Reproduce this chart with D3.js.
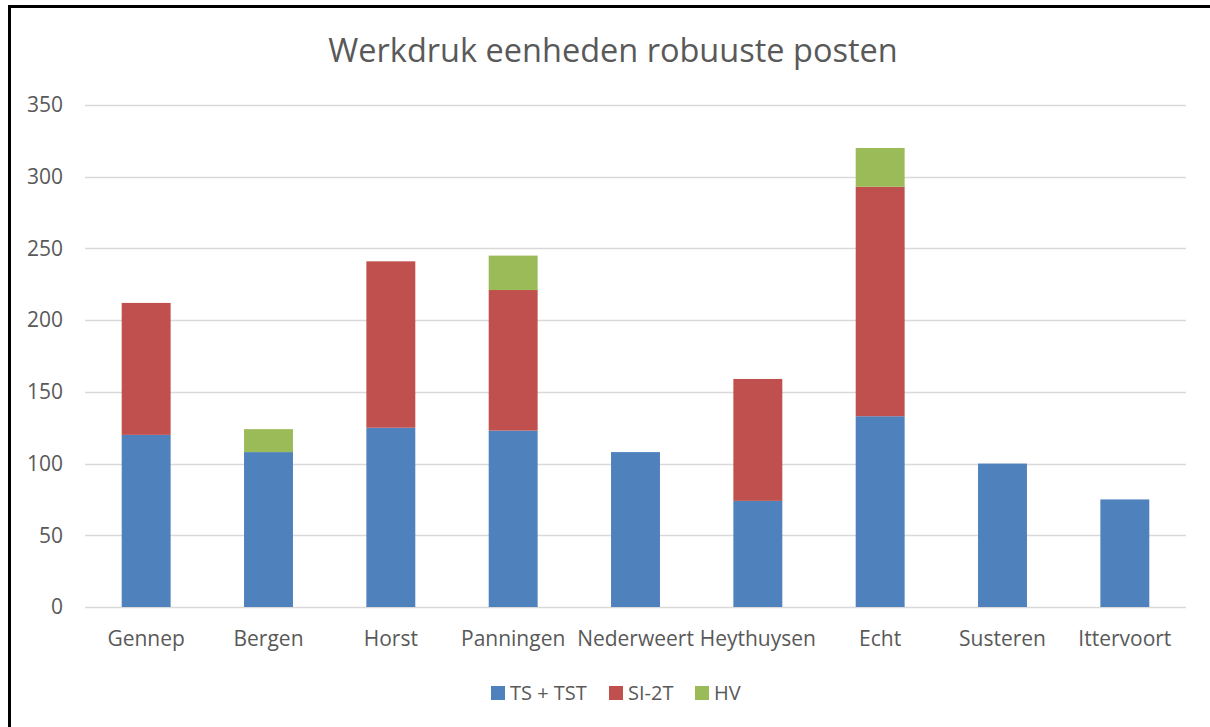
<!DOCTYPE html>
<html>
<head>
<meta charset="utf-8">
<script src="https://cdn.jsdelivr.net/npm/d3@7"></script>
<style>
  html, body { margin: 0; padding: 0; background: #fff; }
  svg { display: block; font-family: "Open Sans", "Noto Sans", sans-serif; }
</style>
</head>
<body>
<div id="chart"></div>
<script>
const categories = ["Gennep", "Bergen", "Horst", "Panningen", "Nederweert", "Heythuysen", "Echt", "Susteren", "Ittervoort"];
const tsTst = [120, 108, 125, 123, 108, 74, 133, 100, 75];
const si2t = [92, 0, 116, 98, 0, 85, 160, 0, 0];
const hv = [0, 16, 0, 24, 0, 0, 27, 0, 0];
const seriesNames = ["TS + TST", "SI-2T", "HV"];
const colors = ["#4f81bd", "#c0504d", "#9bbb59"];
const yTicks = [0, 50, 100, 150, 200, 250, 300, 350];

const width = 1210;
const height = 727;
const margin = { top: 105, right: 24, bottom: 120, left: 85 };

const svg = d3.select("#chart")
    .append("svg")
    .attr("width", width)
    .attr("height", height);

// outer frame
svg.append("rect")
    .attr("x", 9.5).attr("y", 6.5)
    .attr("width", width + 10).attr("height", height + 10)
    .attr("fill", "#fff")
    .attr("stroke", "#000")
    .attr("stroke-width", 3);

svg.append("text")
    .attr("x", 613)
    .attr("y", 62)
    .attr("text-anchor", "middle")
    .attr("font-size", 32.5)
    .attr("fill", "#595959")
    .text("Werkdruk eenheden robuuste posten");

const xScale = d3.scaleBand()
    .domain(categories)
    .range([margin.left, width - margin.right])
    .paddingInner(0.6)
    .paddingOuter(0.3);

const yScale = d3.scaleLinear()
    .domain([0, 350])
    .range([height - margin.bottom, margin.top]);

// gridlines
svg.append("g")
    .selectAll("line")
    .data(yTicks)
    .join("line")
    .attr("x1", margin.left)
    .attr("x2", width - margin.right)
    .attr("y1", d => Math.round(yScale(d)) + 0.5)
    .attr("y2", d => Math.round(yScale(d)) + 0.5)
    .attr("stroke", "#d9d9d9")
    .attr("stroke-width", 1.5);

// y axis labels
const yAxis = svg.append("g")
    .attr("transform", `translate(${margin.left - 22},0)`)
    .call(d3.axisLeft(yScale).tickValues(yTicks).tickSize(0).tickPadding(0));
yAxis.select(".domain").remove();
yAxis.selectAll("text")
    .attr("font-size", 21)
    .attr("font-family", "\"Open Sans\", sans-serif")
    .attr("fill", "#595959");

// x axis labels
const xAxis = svg.append("g")
    .attr("transform", `translate(0,${height - margin.bottom})`)
    .call(d3.axisBottom(xScale).tickSize(0).tickPadding(24));
xAxis.select(".domain").remove();
xAxis.selectAll("text")
    .attr("font-size", 21)
    .attr("font-family", "\"Open Sans\", sans-serif")
    .attr("fill", "#595959");

// stacked bars
const rows = categories.map((c, i) => ({ cat: c, "TS + TST": tsTst[i], "SI-2T": si2t[i], "HV": hv[i] }));
const stacked = d3.stack().keys(seriesNames)(rows);

svg.append("g")
    .selectAll("g")
    .data(stacked)
    .join("g")
    .attr("fill", (d, i) => colors[i])
    .selectAll("rect")
    .data(d => d)
    .join("rect")
    .attr("x", d => xScale(d.data.cat))
    .attr("width", xScale.bandwidth())
    .attr("y", d => yScale(d[1]))
    .attr("height", d => yScale(d[0]) - yScale(d[1]));

// legend
const legendX = [491, 609, 695];
const legend = svg.append("g")
    .selectAll("g")
    .data(seriesNames)
    .join("g")
    .attr("transform", (d, i) => `translate(${legendX[i]},686)`);
legend.append("rect")
    .attr("width", 14).attr("height", 14)
    .attr("fill", (d, i) => colors[i]);
legend.append("text")
    .attr("x", 19)
    .attr("y", 14)
    .attr("font-size", 20)
    .attr("fill", "#595959")
    .text(d => d);
</script>
</body>
</html>
